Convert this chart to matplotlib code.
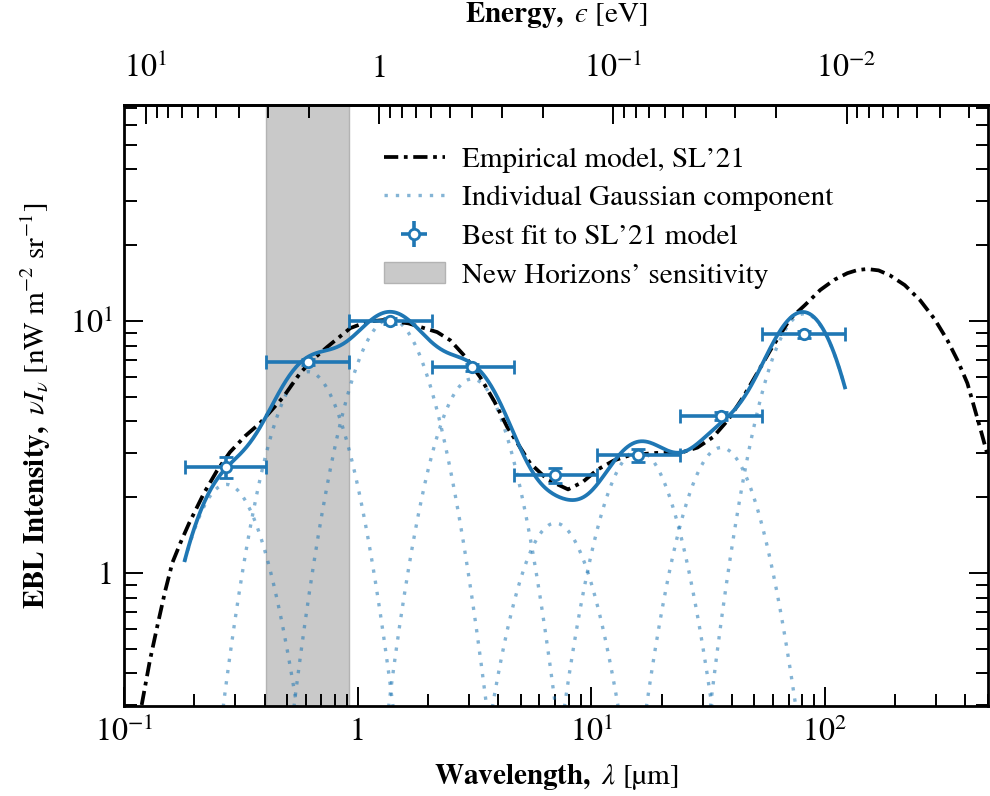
import numpy as np
import matplotlib
matplotlib.use("Agg")
import matplotlib.pyplot as plt
from matplotlib.ticker import LogLocator, FixedLocator, FuncFormatter, NullFormatter
from matplotlib.patches import Patch
from matplotlib.legend_handler import HandlerErrorbar

plt.rcParams["font.family"] = ["STIXGeneral", "DejaVu Serif"]
plt.rcParams["mathtext.fontset"] = "stix"

# Best-fit binned intensities (wavelength in micron, nW m^-2 sr^-1)
bin_lo = [0.182, 0.406, 0.92, 2.08, 4.68, 10.6, 23.9, 54.0]
bin_hi = [0.406, 0.92, 2.08, 4.68, 10.6, 23.9, 54.0, 122.0]
fit_wav = [0.274, 0.614, 1.38, 3.09, 7.02, 15.9, 36.0, 81.7]
fit_val = [2.64, 6.87, 10.0, 6.57, 2.45, 2.94, 4.20, 8.88]
fit_err = [0.25, 0.20, 0.30, 0.20, 0.17, 0.18, 0.15, 0.30]

# Gaussian components in log10(wavelength), one per bin
comp_amp = [2.25, 6.3, 10.2, 5.9, 1.58, 3.07, 3.15, 10.7]
comp_width = [0.150, 0.147, 0.155, 0.146, 0.147, 0.146, 0.147, 0.150]

# Empirical EBL model (SL'21)
model_wav = [0.119, 0.129, 0.139, 0.150, 0.161, 0.175, 0.190, 0.220, 0.250,
             0.284, 0.330, 0.382, 0.48, 0.567, 0.65, 0.74, 0.93, 1.10, 1.29,
             1.65, 2.19, 2.49, 2.90, 3.35, 3.85, 4.37, 5.48, 6.5, 7.96, 9.2,
             10.6, 12.5, 14.7, 19.0, 24.0, 28.5, 33.3, 38.5, 44.7, 51.0, 58.5,
             71.0, 82.4, 95.7, 110.0, 125.0, 138.0, 152.0, 170.0, 190.0,
             220.0, 256.0, 295.0, 335.0, 370.0, 408.0, 464.0, 500.0]
model_val = [0.30, 0.45, 0.62, 0.85, 1.10, 1.33, 1.58, 2.08, 2.55,
             3.02, 3.50, 3.94, 4.99, 6.22, 7.10, 7.89, 9.38, 9.95, 10.1,
             9.80, 9.05, 8.40, 7.20, 5.99, 4.80, 3.80, 2.73, 2.35, 2.15, 2.30,
             2.57, 2.80, 2.94, 3.00, 3.00, 3.15, 3.47, 4.05, 4.99, 6.15, 7.67,
             10.2, 11.6, 13.3, 14.6, 15.5, 15.95, 16.1, 15.9, 15.2,
             13.9, 12.1, 10.2, 8.4, 7.0, 5.67, 3.73, 2.90]

nh_band = [0.406, 0.92]

# energy axis ticks (eV)
energy_major = [10.0, 1.0, 0.1, 0.01]

HC = 1.23984  # eV micron

BLUE = "#1f77b4"
DASHDOT = (0, (3.8, 1.5, 1.0, 1.5))
DOTTED = (0, (1, 2.4))

fig = plt.figure(figsize=(9.9, 7.96), dpi=100)
ax = fig.add_axes([0.1253, 0.113, 0.8727, 0.755])
ax.set_xscale("log")
ax.set_yscale("log")
ax.set_xlim(0.1, 500)
ax.set_ylim(0.297, 72)

# instrument band
ax.axvspan(nh_band[0], nh_band[1], color="0.79", ec="0.70", lw=1.0, zorder=0)

# empirical model
ax.plot(model_wav, model_val, color="black", lw=2.7, ls=DASHDOT, zorder=3)

# Gaussian components and their sum
lam = np.geomspace(bin_lo[0], bin_hi[-1], 600)
loglam = np.log10(lam)
total = np.zeros_like(lam)
for mu, amp, sig in zip(fit_wav, comp_amp, comp_width):
    g = amp * np.exp(-0.5 * ((loglam - np.log10(mu)) / sig) ** 2)
    total += g
    ax.plot(lam, g, color=BLUE, alpha=0.55, lw=2.4, ls=DOTTED, zorder=2)
ax.plot(lam, total, color=BLUE, lw=2.7, zorder=4)

ebar_style = dict(fmt="o", color=BLUE, mfc="white", mec=BLUE, ms=7.5, mew=2.0,
                  elinewidth=2.6, capsize=5, capthick=2.4)
xerr = [np.array(fit_wav) - np.array(bin_lo), np.array(bin_hi) - np.array(fit_wav)]
ax.errorbar(fit_wav, fit_val, xerr=xerr, yerr=fit_err, zorder=5, **ebar_style)

# legend
h_model = plt.Line2D([], [], color="black", lw=2.7, ls=DASHDOT)
h_comp = plt.Line2D([], [], color=BLUE, alpha=0.55, lw=2.4, ls=DOTTED)
h_fit = ax.errorbar([], [], xerr=[], yerr=[], **ebar_style)
h_band = Patch(facecolor="0.79", edgecolor="0.70")
ax.legend([h_model, h_comp, h_fit, h_band],
          ["Empirical model, SL\u201921", "Individual Gaussian component",
           "Best fit to SL\u201921 model", "New Horizons\u2019 sensitivity"],
          handler_map={h_fit: HandlerErrorbar(xerr_size=0.45, yerr_size=0.45)},
          loc="upper left", bbox_to_anchor=(0.27, 0.975), frameon=False,
          fontsize=21, handlelength=2.1, handletextpad=0.6, labelspacing=0.42)


def pow_fmt(v, pos):
    if v <= 0:
        return ""
    e = int(round(np.log10(v)))
    if not np.isclose(v, 10.0 ** e):
        return ""
    return "1" if e == 0 else r"$10^{%d}$" % e


for axis in (ax.xaxis, ax.yaxis):
    axis.set_major_locator(LogLocator(base=10, numticks=20))
    axis.set_minor_locator(LogLocator(base=10, subs=np.arange(2, 10), numticks=20))
    axis.set_major_formatter(FuncFormatter(pow_fmt))
    axis.set_minor_formatter(NullFormatter())

ax.tick_params(which="both", direction="in", top=False, right=True,
               labelsize=23, width=1.4)
ax.tick_params(which="major", length=14, pad=8)
ax.tick_params(which="minor", length=9)
for sp in ax.spines.values():
    sp.set_linewidth(2.0)


def to_energy(x):
    x = np.asarray(x, dtype=float)
    with np.errstate(divide="ignore", invalid="ignore"):
        return HC / x


e_lo, e_hi = HC / ax.get_xlim()[1], HC / ax.get_xlim()[0]
energy_minor = [k * d for d in energy_major + [0.001] for k in range(2, 10)
                if e_lo <= k * d <= e_hi]

sec = ax.secondary_xaxis("top", functions=(to_energy, to_energy))
sec.xaxis.set_major_locator(FixedLocator(energy_major))
sec.xaxis.set_minor_locator(FixedLocator(energy_minor))
sec.xaxis.set_major_formatter(FuncFormatter(pow_fmt))
sec.xaxis.set_minor_formatter(NullFormatter())
sec.tick_params(which="both", direction="in", labelsize=23, width=1.4)
sec.tick_params(which="major", length=14, pad=15)
sec.tick_params(which="minor", length=9)
sec.spines["top"].set_linewidth(2.0)
sec.set_xlabel("$\\mathbf{Energy,}$ $\u03f5$ [eV]", fontsize=21, labelpad=22)

ax.set_xlabel("$\\mathbf{Wavelength,}$ $\\lambda$ [\u00b5m]", fontsize=21, labelpad=10)
ax.set_ylabel("$\\mathbf{EBL\\ Intensity,}$ $\\nu I_\\nu$ [nW m$^{-2}$ sr$^{-1}$]",
              fontsize=21, labelpad=12)

fig.savefig("out.png", dpi=100)
